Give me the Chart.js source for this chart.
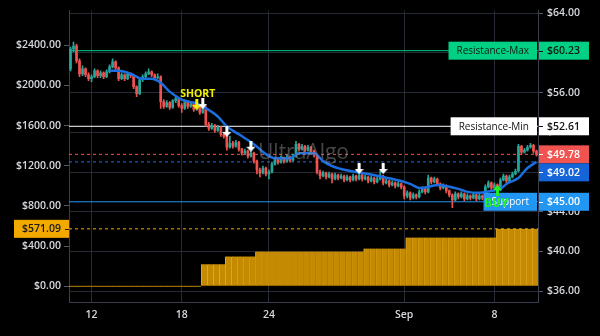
<!DOCTYPE html>
<html>
<head>
<meta charset="utf-8">
<script src="https://cdn.jsdelivr.net/npm/chart.js@4.4.1/dist/chart.umd.min.js"></script>
<style>
  html, body { margin: 0; padding: 0; background: #000; }
  #wrap { width: 600px; height: 336px; }
</style>
</head>
<body>
<div id="wrap"><canvas id="myChart" width="600" height="336"></canvas></div>
<script>
// Свічки (по одній на період)
const opens = [
  58.4, 60.4, 60.7, 59.2, 57.9, 58.4, 57.8, 57.4, 57.6, 58.2,
  57.7, 58.0, 57.6, 58.1, 58.6, 59.1, 58.5, 57.4, 57.8, 57.4,
  57.9, 57.7, 56.6, 55.9, 57.3, 57.6, 57.9, 58.1, 57.8, 57.5,
  57.6, 55.1, 54.6, 55.0, 54.5, 55.2, 55.4, 54.7, 54.4, 55.1,
  54.6, 54.9, 54.3, 54.7, 54.0, 54.5, 52.8, 52.4, 52.7, 52.2,
  52.5, 51.8, 51.6, 50.5, 50.9, 50.6, 51.0, 50.3, 49.9, 50.1,
  49.6, 49.9, 49.1, 48.2, 47.9, 48.4, 47.8, 48.0, 48.8, 49.3,
  49.0, 49.4, 49.1, 49.5, 49.2, 49.6, 50.8, 50.3, 50.6, 50.2,
  50.5, 50.1, 49.7, 48.0, 47.6, 47.9, 47.5, 47.8, 47.3, 47.7,
  47.4, 47.6, 47.2, 47.5, 47.2, 47.6, 47.3, 47.7, 47.3, 47.5,
  47.1, 47.4, 47.0, 47.3, 47.6, 46.9, 47.1, 46.7, 46.9, 46.6,
  46.8, 46.5, 45.6, 45.9, 45.4, 45.7, 45.5, 46.0, 46.3, 46.0,
  47.4, 47.0, 47.3, 46.8, 46.4, 46.6, 46.1, 45.7, 45.2, 45.8,
  45.5, 45.8, 45.3, 45.6, 45.4, 45.7, 45.3, 45.6, 45.4, 46.5,
  46.9, 46.4, 46.7, 46.2, 47.2, 47.6, 47.1, 47.5, 47.8, 48.1,
  50.6, 50.0, 50.2, 50.5, 50.7, 50.1
];
const closes = [
  60.4, 60.7, 59.2, 57.9, 58.4, 57.8, 57.4, 57.6, 58.2, 57.7,
  58.0, 57.6, 58.1, 58.6, 59.1, 58.5, 57.4, 57.8, 57.4, 57.9,
  57.7, 56.6, 55.9, 57.3, 57.6, 57.9, 58.1, 57.8, 57.5, 57.6,
  55.1, 54.6, 55.0, 54.5, 55.2, 55.4, 54.7, 54.4, 55.1, 54.6,
  54.9, 54.3, 54.7, 54.0, 54.5, 52.8, 52.4, 52.7, 52.2, 52.5,
  51.8, 51.6, 50.5, 50.9, 50.6, 51.0, 50.3, 49.9, 50.1, 49.6,
  49.9, 49.1, 48.2, 47.9, 48.4, 47.8, 48.0, 48.8, 49.3, 49.0,
  49.4, 49.1, 49.5, 49.2, 49.6, 50.8, 50.3, 50.6, 50.2, 50.5,
  50.1, 49.7, 48.0, 47.6, 47.9, 47.5, 47.8, 47.3, 47.7, 47.4,
  47.6, 47.2, 47.5, 47.2, 47.6, 47.3, 47.7, 47.3, 47.5, 47.1,
  47.4, 47.0, 47.3, 47.6, 46.9, 47.1, 46.7, 46.9, 46.6, 46.8,
  46.5, 45.6, 45.9, 45.4, 45.7, 45.5, 46.0, 46.3, 46.0, 47.4,
  47.0, 47.3, 46.8, 46.4, 46.6, 46.1, 45.7, 45.2, 45.8, 45.5,
  45.8, 45.3, 45.6, 45.4, 45.7, 45.3, 45.6, 45.4, 46.5, 46.9,
  46.4, 46.7, 46.2, 47.2, 47.6, 47.1, 47.5, 47.8, 48.1, 50.6,
  50.0, 50.2, 50.5, 50.7, 50.1, 49.78
];
const highs = [
  60.6, 61.1, 60.9, 59.4, 58.7, 58.5, 58.0, 57.8, 58.4, 58.3,
  58.2, 58.1, 58.3, 58.8, 59.4, 59.2, 58.6, 58.0, 57.9, 58.1,
  58.0, 57.8, 56.7, 57.5, 57.8, 58.1, 58.4, 58.2, 57.9, 57.9,
  57.7, 55.3, 55.2, 55.1, 55.3, 55.7, 55.5, 54.9, 55.3, 55.2,
  55.1, 55.0, 54.9, 54.8, 54.8, 54.6, 53.0, 52.9, 52.8, 52.7,
  52.6, 52.0, 51.7, 51.6, 51.1, 51.2, 51.1, 50.4, 50.3, 50.2,
  50.1, 50.0, 49.2, 48.4, 48.6, 48.5, 48.2, 49.0, 49.5, 49.4,
  49.6, 49.5, 49.7, 49.6, 49.8, 51.1, 50.9, 50.8, 50.7, 50.7,
  50.6, 50.2, 49.8, 48.2, 48.1, 48.0, 48.0, 47.9, 47.9, 47.8,
  47.8, 47.7, 47.7, 47.6, 47.8, 47.7, 47.9, 47.8, 47.7, 47.6,
  47.6, 47.5, 47.5, 48.1, 47.7, 47.3, 47.2, 47.1, 47.0, 47.0,
  46.9, 46.6, 46.1, 46.0, 45.9, 45.8, 46.2, 46.5, 46.4, 47.7,
  47.5, 47.5, 47.4, 46.9, 46.8, 46.7, 46.2, 45.8, 46.0, 45.9,
  46.0, 45.9, 45.8, 45.7, 45.9, 45.8, 45.8, 45.7, 46.7, 47.1,
  47.0, 46.9, 46.8, 47.4, 47.8, 47.7, 47.7, 48.0, 48.3, 50.8,
  50.7, 50.4, 50.7, 50.9, 50.8, 50.2
];
const lows = [
  58.2, 60.1, 59.0, 57.6, 57.7, 57.6, 57.2, 57.1, 57.5, 57.5,
  57.5, 57.4, 57.5, 58.0, 58.5, 58.3, 57.2, 57.3, 57.2, 57.3,
  57.5, 56.4, 55.6, 55.8, 57.1, 57.5, 57.8, 57.6, 57.3, 57.4,
  54.4, 54.4, 54.5, 54.3, 54.4, 55.0, 54.5, 54.0, 54.3, 54.4,
  54.5, 54.1, 54.2, 53.8, 53.9, 52.6, 52.2, 52.3, 52.0, 52.1,
  51.6, 51.4, 50.2, 50.4, 50.4, 50.5, 50.1, 49.7, 49.8, 49.4,
  49.5, 48.9, 47.8, 47.5, 47.8, 47.6, 47.3, 47.9, 48.7, 48.8,
  48.9, 48.9, 49.0, 49.0, 49.1, 49.5, 50.1, 50.2, 50.0, 50.1,
  49.9, 49.5, 47.8, 47.3, 47.5, 47.3, 47.4, 46.9, 47.2, 47.2,
  47.3, 47.0, 47.1, 47.0, 47.1, 47.1, 47.2, 47.1, 47.2, 46.9,
  47.0, 46.8, 46.9, 47.2, 46.7, 46.8, 46.5, 46.6, 46.4, 46.5,
  46.3, 45.3, 45.4, 45.2, 45.3, 45.3, 45.4, 45.9, 45.8, 45.9,
  46.8, 46.9, 46.6, 46.2, 46.3, 45.9, 45.5, 44.4, 45.1, 45.3,
  45.4, 45.1, 45.2, 45.2, 45.3, 45.1, 45.2, 45.2, 45.3, 46.4,
  46.2, 46.3, 46.0, 46.1, 47.1, 46.9, 47.0, 47.4, 47.7, 48.0,
  49.8, 49.9, 50.1, 50.4, 49.9, 49.6
];

// Ковзна середня (індекс свічки -> ціна)
const maIndex = [13, 16, 20, 24, 27, 30, 33, 37, 42, 44, 49, 52, 56, 61, 65, 68, 73, 76, 81, 84,
  87, 93, 99, 104, 110, 113, 116, 119, 122, 125, 129, 132, 136, 140, 143, 145, 149, 152, 155];
const maValues = [58.2, 58.2, 57.9, 57.4, 57.4, 57.0, 56.1, 55.3, 54.9, 54.6, 53.6, 52.6, 51.8, 50.8, 49.8, 49.4, 49.4, 49.9, 49.9, 49.1,
  48.6, 48.1, 47.8, 47.5, 47.1, 46.8, 46.4, 46.5, 46.7, 46.6, 46.3, 46.0, 45.9, 46.1, 46.3, 46.8, 47.4, 48.4, 49.02];

// Накопичений прибуток (ліва шкала), один стовпчик на дві свічки
const profit = [
  0, 0, 0, 0, 0, 0, 0, 0, 0, 0, 0, 0, 0, 0, 0, 0, 0, 0, 0, 0, 0, 0,
  217, 217, 217, 217,
  296, 296, 296, 296, 296,
  345, 345, 345, 345, 345, 345, 345, 345, 345, 345, 345, 345, 345, 345, 345, 345, 345, 345,
  375, 375, 375, 375, 375, 375, 375,
  484, 484, 484, 484, 484, 484, 484, 484, 484, 484, 484, 484, 484, 484, 484,
  571.09, 571.09, 571.09, 571.09, 571.09, 571.09, 571.09
];

// Підписи осі X
const dayTickIndex = [7, 37, 66, 111, 141];
const dayTickText = ['12', '18', '24', 'Sep', '8'];
const priceTicks = [36, 40, 44, 48, 52, 56, 60, 64];
const profitTicks = [0, 400, 800, 1200, 1600, 2000, 2400];

// Рівні
const resistanceMax = 60.23;
const resistanceMin = 52.61;
const supportLevel = 45.00;
const lastPrice = 49.78;
const maLast = 49.02;
const profitMax = 571.09;

// Сигнали
const sellIndex = [44, 52, 60, 96, 104];
const sellPrice = [54.9, 52.1, 50.6, 48.35, 48.35];
const shortIndex = 42;
const shortPrice = 54.8;
const buyIndex = 142;
const buyPrice = 46.1;

const N = closes.length;
const bull = '#26a69a', bear = '#ef5350';
const gridColor = '#262a35';
const axisColor = '#3a3e4c';
const textColor = '#d6d8de';
const tickFont = { family: "'Open Sans', sans-serif", size: 10.5, weight: '600' };
const candleColor = closes.map((c, i) => c >= opens[i] ? bull : bear);

function arrowIcon(color, up) {
  const c = document.createElement('canvas');
  c.width = 9; c.height = 11;
  const g = c.getContext('2d');
  g.fillStyle = color;
  g.beginPath();
  if (up) {
    g.moveTo(4.5, 0); g.lineTo(9, 5); g.lineTo(6, 5); g.lineTo(6, 11);
    g.lineTo(3, 11); g.lineTo(3, 5); g.lineTo(0, 5);
  } else {
    g.moveTo(3, 0); g.lineTo(6, 0); g.lineTo(6, 6); g.lineTo(9, 6);
    g.lineTo(4.5, 11); g.lineTo(0, 6); g.lineTo(3, 6);
  }
  g.closePath();
  g.fill();
  return c;
}
const whiteDown = arrowIcon('#ffffff', false);
const yellowDown = arrowIcon('#f2f200', false);
const greenUp = arrowIcon('#22ee22', true);

const levelLine = (v, color, dash, axis, order) => ({
  type: 'line',
  yAxisID: axis,
  data: [{ x: -0.5, y: v }, { x: N - 0.5, y: v }],
  borderColor: color,
  borderWidth: 1,
  borderDash: dash,
  pointRadius: 0,
  order: order
});

// Плашки справа та зліва, водяний знак, підписи сигналів
const overlay = {
  id: 'overlay',
  afterDatasetsDraw(chart) {
    const { ctx, chartArea: a } = chart;
    ctx.save();
    ctx.font = "21px 'Open Sans', sans-serif";
    ctx.fillStyle = 'rgba(140, 140, 140, 0.5)';
    ctx.textAlign = 'center';
    ctx.textBaseline = 'middle';
    ctx.fillText('UltraAlgo', (a.left + a.right) / 2, (a.top + a.bottom) / 2 - 3);
    ctx.restore();
  },
  afterDraw(chart) {
    const { ctx, chartArea: a, scales } = chart;
    const y = scales.y, yL = scales.yL, x = scales.x;
    const valueFont = "600 10.5px 'Open Sans', sans-serif";
    const nameFont = "10px 'Open Sans', sans-serif";

    const valueTag = (py, text, bg, fg) => {
      ctx.fillStyle = bg;
      ctx.fillRect(a.right + 1, py - 9, 50, 18);
      ctx.strokeStyle = fg;
      ctx.lineWidth = 1;
      ctx.beginPath();
      ctx.moveTo(a.right + 1, Math.round(py) + 0.5);
      ctx.lineTo(a.right + 5, Math.round(py) + 0.5);
      ctx.stroke();
      ctx.fillStyle = fg;
      ctx.font = valueFont;
      ctx.textAlign = 'left';
      ctx.textBaseline = 'middle';
      ctx.fillText(text, a.right + 9, py + 0.5);
    };
    const nameTag = (py, text, bg, fg) => {
      ctx.font = nameFont;
      const w = ctx.measureText(text).width + 16;
      ctx.fillStyle = bg;
      ctx.fillRect(a.right - 1 - w, py - 9, w, 18);
      ctx.fillStyle = fg;
      ctx.textAlign = 'center';
      ctx.textBaseline = 'middle';
      ctx.fillText(text, a.right - 1 - w / 2, py + 0.5);
    };

    ctx.save();
    // SHORT
    ctx.font = "700 10.5px 'Open Sans', sans-serif";
    ctx.fillStyle = '#f2f200';
    ctx.textAlign = 'center';
    ctx.textBaseline = 'middle';
    ctx.fillText('SHORT', x.getPixelForValue(shortIndex) + 1, y.getPixelForValue(shortPrice) - 11);

    const pMax = y.getPixelForValue(resistanceMax);
    nameTag(pMax, 'Resistance-Max', '#00d084', '#0b1a12');
    valueTag(pMax, '$' + resistanceMax.toFixed(2), '#00d084', '#0b1a12');

    const pMin = y.getPixelForValue(resistanceMin);
    nameTag(pMin, 'Resistance-Min', '#ffffff', '#111111');
    valueTag(pMin, '$' + resistanceMin.toFixed(2), '#ffffff', '#111111');

    const pLast = y.getPixelForValue(lastPrice);
    valueTag(pLast, '$' + lastPrice.toFixed(2), '#f05350', '#ffffff');
    const pMa = Math.max(y.getPixelForValue(maLast), pLast + 18);
    valueTag(pMa, '$' + maLast.toFixed(2), '#1565d8', '#ffffff');

    const pSup = y.getPixelForValue(supportLevel);
    nameTag(pSup, 'Support', '#2196f3', '#ffffff');
    valueTag(pSup, '$' + supportLevel.toFixed(2), '#2196f3', '#ffffff');

    // BUY
    const bx = x.getPixelForValue(buyIndex), by = y.getPixelForValue(buyPrice);
    ctx.drawImage(greenUp, Math.round(bx - 4.5), Math.round(by - 5.5));
    ctx.font = "700 12px 'Liberation Sans Narrow', 'DejaVu Sans Condensed', sans-serif";
    ctx.fillStyle = '#22ee22';
    ctx.textAlign = 'center';
    ctx.fillText('BUY', bx - 1, by + 13);

    // прибуток зліва
    const pProfit = yL.getPixelForValue(profitMax);
    ctx.fillStyle = '#f2a900';
    ctx.fillRect(14, pProfit - 9, a.left - 14, 18);
    ctx.strokeStyle = '#1a1a1a';
    ctx.beginPath();
    ctx.moveTo(a.left - 4, Math.round(pProfit) + 0.5);
    ctx.lineTo(a.left, Math.round(pProfit) + 0.5);
    ctx.stroke();
    ctx.fillStyle = '#1a1a1a';
    ctx.font = valueFont;
    ctx.textAlign = 'right';
    ctx.fillText('$' + profitMax.toFixed(2), a.left - 8, pProfit + 0.5);
    ctx.restore();
  }
};

const ctx = document.getElementById('myChart').getContext('2d');

new Chart(ctx, {
  type: 'bar',
  data: {
    datasets: [
      {
        // накопичений прибуток
        type: 'bar',
        yAxisID: 'yL',
        data: profit.map((v, k) => ({ x: 2 * k + 0.5, y: v })),
        backgroundColor: '#c48b00',
        borderColor: '#e2a62c',
        borderWidth: { left: 1, right: 0, top: 0, bottom: 0 },
        borderSkipped: false,
        barThickness: 6,
        minBarLength: 1,
        grouped: false,
        order: 20
      },
      levelLine(profitMax, '#f2a900', [3, 3], 'yL', 15),
      levelLine(resistanceMax, '#00d084', [], 'y', 14),
      levelLine(resistanceMin, '#ffffff', [], 'y', 14),
      levelLine(lastPrice, '#f05350', [3, 3], 'y', 14),
      levelLine(maLast, '#1e6fe0', [3, 3], 'y', 14),
      levelLine(supportLevel, '#2196f3', [], 'y', 14),
      {
        // тіні свічок
        type: 'bar',
        yAxisID: 'y',
        data: closes.map((c, i) => ({ x: i, y: [lows[i], highs[i]] })),
        backgroundColor: candleColor,
        barThickness: 1,
        grouped: false,
        order: 10
      },
      {
        // тіла свічок
        type: 'bar',
        yAxisID: 'y',
        data: closes.map((c, i) => ({ x: i, y: [opens[i], c] })),
        backgroundColor: candleColor,
        barThickness: 2,
        minBarLength: 1,
        grouped: false,
        order: 9
      },
      {
        type: 'line',
        yAxisID: 'y',
        data: maIndex.map((v, j) => ({ x: v, y: maValues[j] })),
        borderColor: '#1a6ee0',
        borderWidth: 2.5,
        cubicInterpolationMode: 'monotone',
        pointRadius: 0,
        order: 5
      },
      {
        type: 'scatter',
        yAxisID: 'y',
        data: [{ x: shortIndex, y: shortPrice }],
        pointStyle: yellowDown,
        order: 3
      },
      {
        type: 'scatter',
        yAxisID: 'y',
        data: sellIndex.map((v, j) => ({ x: v, y: sellPrice[j] })),
        pointStyle: whiteDown,
        order: 2
      }
    ]
  },
  options: {
    responsive: false,
    animation: false,
    devicePixelRatio: 1,
    layout: { padding: { top: 8, left: 0, right: 0, bottom: 0 } },
    plugins: {
      legend: { display: false },
      tooltip: { enabled: false }
    },
    scales: {
      x: {
        type: 'linear',
        offset: false,
        min: -0.5,
        max: N - 0.5,
        afterBuildTicks: (axis) => { axis.ticks = dayTickIndex.map(v => ({ value: v })); },
        afterFit: (axis) => { axis.height = 34; },
        grid: { color: gridColor, drawTicks: false, offset: false },
        border: { color: axisColor },
        ticks: {
          color: textColor,
          font: tickFont,
          padding: 7,
          maxRotation: 0,
          autoSkip: false,
          callback: (v) => dayTickText[dayTickIndex.indexOf(v)]
        }
      },
      y: {
        position: 'right',
        min: 34.9,
        max: 64.3,
        afterBuildTicks: (axis) => { axis.ticks = priceTicks.map(v => ({ value: v })); },
        afterFit: (axis) => { axis.width = 62; },
        grid: { color: gridColor, tickLength: 5, tickColor: '#555a66' },
        border: { color: axisColor },
        ticks: {
          color: textColor,
          font: tickFont,
          padding: 4,
          callback: (v) => '$' + v.toFixed(2)
        }
      },
      yL: {
        position: 'left',
        min: -158,
        max: 2749,
        afterBuildTicks: (axis) => { axis.ticks = profitTicks.map(v => ({ value: v })); },
        afterFit: (axis) => { axis.width = 69; },
        grid: { drawOnChartArea: false, tickLength: 5, tickColor: '#555a66' },
        border: { color: axisColor },
        ticks: {
          color: textColor,
          font: tickFont,
          padding: 3,
          callback: (v) => '$' + v.toFixed(2)
        }
      }
    }
  },
  plugins: [overlay]
});
</script>
</body>
</html>
